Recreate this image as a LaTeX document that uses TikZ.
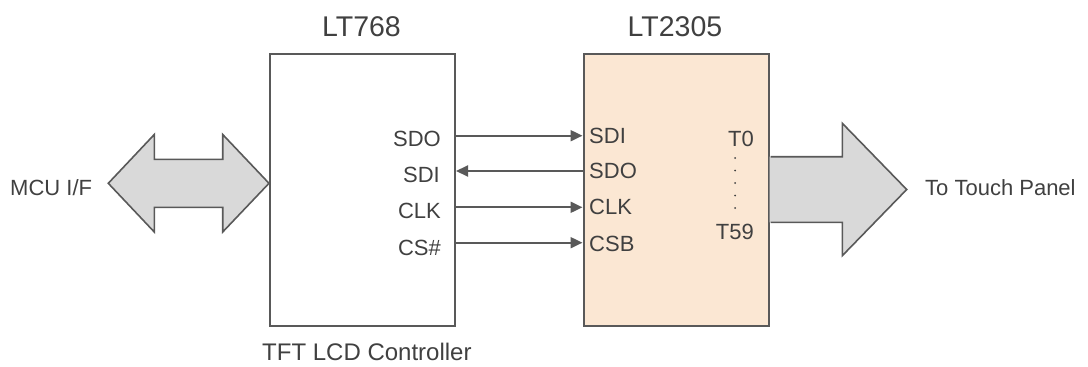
\documentclass[tikz,border=0pt]{standalone}
\usepackage{fontspec}
\setmainfont{Liberation Sans}
\usetikzlibrary{arrows.meta}
\definecolor{txt}{HTML}{404040}
\definecolor{ln}{HTML}{595959}
\definecolor{peach}{HTML}{FBE7D3}
\definecolor{bigfill}{HTML}{D9D9D9}
\tikzset{
  chip/.style={draw=ln, line width=2pt, minimum width=185pt, minimum height=272.5pt, anchor=north west, inner sep=0pt},
  lbl/.style={text=txt, font=\fontsize{22}{24}\selectfont, inner sep=0pt},
  ttl/.style={text=txt, font=\fontsize{28.5}{30}\selectfont, inner sep=0pt, anchor=base},
  sig/.style={draw=ln, line width=2pt, -{Triangle[length=12pt,width=11pt]}},
  big/.style={draw=ln, fill=bigfill, line width=1.6pt, line join=miter}
}
\begin{document}
\begin{tikzpicture}[x=1pt,y=-1pt]
\useasboundingbox (0,0) rectangle (1088,367);
% boxes
\node[chip] (lt768) at (269,52.5) {};
\node[chip, fill=peach] (lt2305) at (582.5,52.5) {};
% titles
\node[ttl] (t768) at (361.5,36) {LT768};
\node[ttl] (t2305) at (675,36) {LT2305};
\node[lbl, anchor=base west, font=\fontsize{24}{26}\selectfont] (tft) at (262,360) {TFT LCD Controller};
% left labels
\node[lbl, anchor=base east] (lsdo) at (441,146.7) {SDO};
\node[lbl, anchor=base east] (lsdi) at (440,182.7) {SDI};
\node[lbl, anchor=base east] (lclk) at (441,218.3) {CLK};
\node[lbl, anchor=base east] (lcs) at (441,255) {CS\#};
% right labels
\node[lbl, anchor=base west] (rsdi) at (589,143.3) {SDI};
\node[lbl, anchor=base west] (rsdo) at (589,178.3) {SDO};
\node[lbl, anchor=base west] (rclk) at (589,214) {CLK};
\node[lbl, anchor=base west] (rcsb) at (589,251.7) {CSB};
\node[lbl, anchor=base east] (t0) at (754,146.7) {T0};
\node[lbl, anchor=base east] (t59) at (754,239.3) {T59};
\foreach \yy in {158,170.5,183,195.5,208}
  \fill[txt] (735,\yy) circle (1pt);
% signals
\draw[sig] (lt768.north east |- 0,135.7) -- (lt2305.north west |- 0,135.7);
\draw[sig] (lt2305.north west |- 0,171) -- (lt768.north east |- 0,171);
\draw[sig] (lt768.north east |- 0,207.3) -- (lt2305.north west |- 0,207.3);
\draw[sig] (lt768.north east |- 0,242.7) -- (lt2305.north west |- 0,242.7);
% MCU double arrow
\draw[big] (108.3,183.3) -- (154.3,134.5) -- (154.3,159.3) -- (222.7,159.3) -- (222.7,134.5)
  -- (lt768.north west |- 0,183.3) -- (222.7,232) -- (222.7,207.3) -- (154.3,207.3) -- (154.3,232) -- cycle;
\node[lbl, anchor=base west] (mcu) at (10,195) {MCU I/F};
% touch panel arrow
\fill[bigfill] (lt2305.north east |- 0,156.7) -- (842.3,156.7) -- (842.3,123.3) -- (906.7,189.5)
  -- (842.3,255.7) -- (842.3,222.3) -- (lt2305.north east |- 0,222.3) -- cycle;
\draw[draw=ln, line width=1.6pt, line join=miter] ([xshift=1pt]lt2305.north east |- 0,156.7) -- (842.3,156.7) -- (842.3,123.3) -- (906.7,189.5)
  -- (842.3,255.7) -- (842.3,222.3) -- ([xshift=1pt]lt2305.north east |- 0,222.3);
\node[lbl, anchor=base west] (tp) at (925,195) {To Touch Panel};
\end{tikzpicture}
\end{document}
